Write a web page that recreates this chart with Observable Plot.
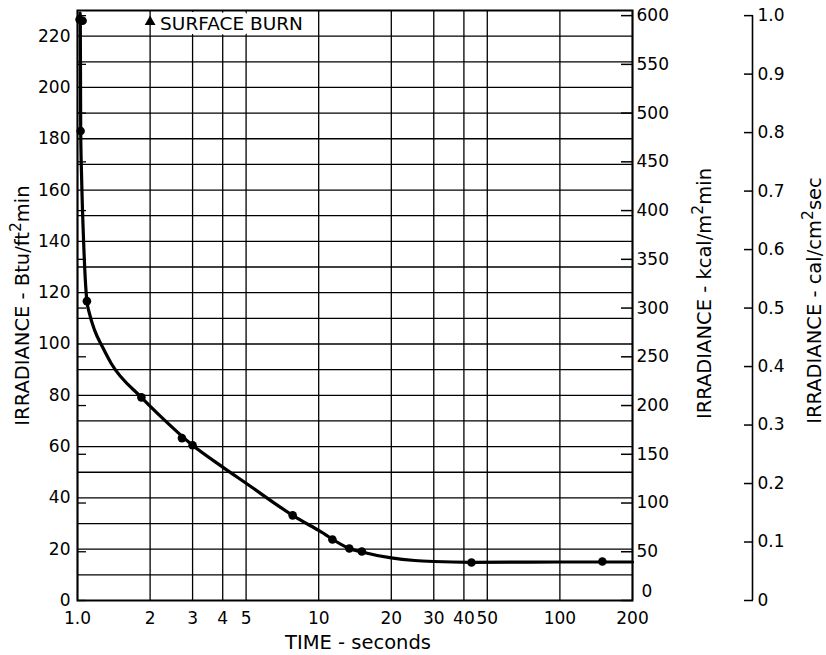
<!DOCTYPE html>
<html><head><meta charset="utf-8">
<script src="https://cdn.jsdelivr.net/npm/d3@7"></script>
<script src="https://cdn.jsdelivr.net/npm/@observablehq/plot@0.6"></script>
<style>
body{margin:0;background:#fff;}
#chart svg{display:block;}
</style></head><body><div id="chart"></div>
<script>
// ---- data ----
const timeTicks  = [1, 2, 3, 4, 5, 10, 20, 30, 40, 50, 100, 200];
const timeLabels = ["1.0", "2", "3", "4", "5", "10", "20", "30", "40", "50", "100", "200"];
const btuTicks   = [0, 20, 40, 60, 80, 100, 120, 140, 160, 180, 200, 220];
const btuGrid    = [10, 20, 30, 40, 50, 60, 70, 80, 90, 100, 110, 120, 130, 140, 150, 160, 170, 180, 190, 200, 210, 220];
const kcalTicks  = [0, 50, 100, 150, 200, 250, 300, 350, 400, 450, 500, 550, 600];
const calTicks   = [0, 0.1, 0.2, 0.3, 0.4, 0.5, 0.6, 0.7, 0.8, 0.9, 1.0];
const calLabels  = ["0", "0.1", "0.2", "0.3", "0.4", "0.5", "0.6", "0.7", "0.8", "0.9", "1.0"];

// measured points (time s, irradiance Btu/ft2 min)
const pointTime = [1.02, 1.05, 1.03, 1.094, 1.84, 2.71, 3.0, 7.8, 11.4, 13.4, 15.1, 43, 150];
const pointBtu  = [226.5, 226, 183, 116.7, 79.2, 63.3, 60.5, 33.2, 23.8, 20.3, 19.1, 14.8, 15.2];

// fitted curve
const curveTime = [1.025, 1.027, 1.029, 1.031, 1.04, 1.06, 1.086, 1.094, 1.12, 1.177, 1.27, 1.38, 1.84, 2.25, 3.0, 4.0, 5.0, 7.8, 10, 13.4, 15.1, 20, 25, 30, 43, 100, 200];
const curveBtu  = [229, 226, 205, 183, 165, 140, 120, 116.7, 112, 105.4, 98.8, 92.4, 79.2, 71.1, 60.5, 52, 45.7, 33.2, 27.3, 20.3, 18.9, 16.6, 15.6, 15.2, 14.9, 15, 15];

const burnTime = 2, burnBtu = 224.8;

// scale relation of the right-hand axes (600 kcal/m2min = 1.0 cal/cm2sec)
const kF = 600 / 228;        // kcal per Btu as drawn
const calFull = 600 / kF;    // Btu at 1.0 cal/cm2 sec

const points = pointTime.map((t, i) => ({t, b: pointBtu[i]}));
const curve  = curveTime.map((t, i) => ({t, b: curveBtu[i]}));

const plot = Plot.plot({
  width: 826, height: 655,
  marginLeft: 77, marginRight: 194, marginTop: 10, marginBottom: 55,
  style: {fontFamily: "DejaVu Sans", fontSize: "17px", color: "black", background: "white"},
  x: {type: "log", domain: [1, 200], axis: null},
  y: {domain: [0, 230], axis: null},
  marks: [
    Plot.ruleY(btuGrid, {stroke: "black", strokeWidth: 1.3}),
    Plot.ruleX(timeTicks, {stroke: "black", strokeWidth: 1.3}),
    // annotation (white halo hides the grid behind the words)
    Plot.text(["SURFACE BURN"], {x: burnTime, y: burnBtu, dx: 10, textAnchor: "start", lineAnchor: "middle", fontSize: 18.5,
      fill: "black", stroke: "white", strokeWidth: 10, letterSpacing: 1}),
    Plot.dot([burnTime], {x: d => d, y: burnBtu, symbol: "triangle", r: 4, fill: "black", stroke: "none", dy: -2}),
    Plot.frame({stroke: "black", strokeWidth: 2}),
    Plot.axisX({ticks: timeTicks, tickSize: 0, tickPadding: 11, label: null, fontSize: 17,
      tickFormat: d => timeLabels[timeTicks.findIndex(v => Math.abs(v - d) < 1e-6)]}),
    Plot.axisY({anchor: "left", ticks: btuTicks, tickSize: 0, tickPadding: 7, label: null, fontSize: 17}),
    // short inward ticks (kcal divisions) on both spines
    Plot.axisY({anchor: "left", ticks: kcalTicks.map(v => v / kF), tickSize: 9, insetLeft: 9, strokeWidth: 1.3, tickFormat: () => "", label: null}),
    Plot.axisY({anchor: "right", ticks: kcalTicks.map(v => v / kF), tickSize: 12, insetRight: 12, strokeWidth: 1.5, tickFormat: () => "", label: null}),
    Plot.axisY({anchor: "right", ticks: kcalTicks.filter(v => v > 0).map(v => v / kF), tickSize: 0, tickPadding: 4, label: null, fontSize: 17,
      tickFormat: d => String(Math.round(d * kF / 50) * 50)}),
    Plot.axisY({anchor: "right", ticks: kcalTicks.filter(v => v === 0), tickSize: 0, tickPadding: 9, dy: -9, label: null, fontSize: 17,
      tickFormat: () => "0"}),
    // third axis: cal/cm2 sec
    Plot.ruleX([200], {y1: 0, y2: calFull, dx: 120, stroke: "black", strokeWidth: 1.6}),
    Plot.axisY({anchor: "right", ticks: calTicks.map(v => v * calFull), tickSize: 9, insetRight: 9, strokeWidth: 1.5, dx: 120, tickFormat: () => "", label: null}),
    Plot.axisY({anchor: "right", ticks: calTicks.map(v => v * calFull), tickSize: 0, tickPadding: 5, dx: 120, label: null, fontSize: 17,
      tickFormat: d => calLabels[Math.round(d / calFull * 10)]}),
    // curve and points
    Plot.line(curve, {x: "t", y: "b", curve: "monotone-x", stroke: "black", strokeWidth: 3.2}),
    Plot.dot(points, {x: "t", y: "b", r: 4.3, fill: "black", stroke: "none"}),
    // titles
    Plot.text(["IRRADIANCE - Btu/ft^2min"], {frameAnchor: "left", textAnchor: "middle", lineAnchor: "middle", rotate: -90, dx: -55, fontSize: 19.5}),
    Plot.text(["IRRADIANCE - kcal/m^2min"], {frameAnchor: "right", textAnchor: "middle", lineAnchor: "middle", rotate: -90, dx: 72, dy: -12, fontSize: 19.5}),
    Plot.text(["IRRADIANCE - cal/cm^2sec"], {frameAnchor: "right", textAnchor: "middle", lineAnchor: "middle", rotate: -90, dx: 182, dy: -5, fontSize: 19.5}),
    Plot.text(["TIME - seconds"], {frameAnchor: "bottom", textAnchor: "middle", lineAnchor: "middle", dy: 42, dx: 3, fontSize: 19.5})
  ]
});

// superscripts
const ns = "http://www.w3.org/2000/svg";
plot.querySelectorAll("text").forEach(t => {
  if (t.children.length === 0 && t.textContent.includes("^2")) {
    const [a, b] = t.textContent.split("^2");
    t.textContent = "";
    const s1 = document.createElementNS(ns, "tspan"); s1.textContent = a;
    const s2 = document.createElementNS(ns, "tspan"); s2.textContent = "2";
    s2.setAttribute("dy", "-0.5em"); s2.setAttribute("font-size", "0.8em");
    const s3 = document.createElementNS(ns, "tspan"); s3.textContent = b;
    s3.setAttribute("dy", "0.4em");
    t.append(s1, s2, s3);
  }
});
document.getElementById("chart").append(plot);
</script>
</body></html>
